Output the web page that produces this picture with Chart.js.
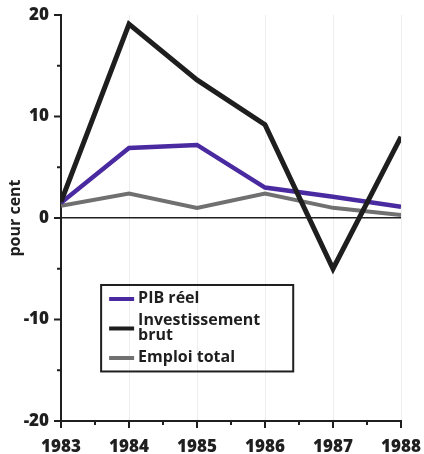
<!DOCTYPE html>
<html><head><meta charset="utf-8">
<script src="https://cdn.jsdelivr.net/npm/chart.js@4"></script>
<style>html,body{margin:0;padding:0;background:#fff}#w{width:424px;height:454px;position:relative}</style>
</head><body><div id="w"><canvas id="c"></canvas></div>
<script>
const years = [1983, 1984, 1985, 1986, 1987, 1988];
const pibReel = [1.5, 6.9, 7.2, 3.0, 2.1, 1.1];
const investissementBrut = [1.6, 19.1, 13.6, 9.2, -5.0, 8.0];
const emploiTotal = [1.2, 2.4, 1.0, 2.4, 1.0, 0.3];
const seriesNames = ['PIB réel', 'Investissement brut', 'Emploi total'];
const legendLines = [['PIB réel'], ['Investissement', 'brut'], ['Emploi total']];
const yTickValues = [-20, -10, 0, 10, 20];
const yAxisTitle = 'pour cent';

const FONT = '"Open Sans", "DejaVu Sans", sans-serif';
const INK = '#1f1f1f';
const colors = { pib: '#4a2aa0', inv: '#1e1e1e', emp: '#707070' };

const pts = arr => years.map((y, i) => ({ x: y, y: arr[i] }));

const tickMarks = {
  id: 'tickMarks',
  afterDraw(chart) {
    const { ctx, chartArea: a, scales: { x, y } } = chart;
    ctx.save();
    ctx.strokeStyle = INK; ctx.lineWidth = 2;
    for (let v = x.min; v <= x.max + 1e-9; v += 0.5) {
      const px = x.getPixelForValue(v);
      const len = Number.isInteger(v) ? 7 : 4;
      ctx.beginPath(); ctx.moveTo(px, a.bottom); ctx.lineTo(px, a.bottom + len); ctx.stroke();
    }
    for (let v = y.min; v <= y.max + 1e-9; v += 5) {
      const py = y.getPixelForValue(v);
      const len = v % 10 === 0 ? 7 : 4;
      ctx.beginPath(); ctx.moveTo(a.left, py); ctx.lineTo(a.left - len, py); ctx.stroke();
    }
    ctx.restore();
  }
};

const boxLegend = {
  id: 'boxLegend',
  afterDraw(chart) {
    const { ctx, chartArea: a } = chart;
    const w = a.right - a.left, h = a.bottom - a.top;
    const bx = a.left + w * 0.118, by = a.top + h * 0.665;
    const bw = w * 0.565, bh = h * 0.213;
    ctx.save();
    ctx.strokeStyle = INK; ctx.lineWidth = 2;
    ctx.strokeRect(bx, by, bw, bh);
    const order = [1, 0, 2];
    const lineH = 15;
    let cy = by + 13;
    ctx.font = 'bold 16px ' + FONT;
    ctx.textBaseline = 'middle';
    legendLines.forEach((lines, i) => {
      const ds = chart.data.datasets[order[i]];
      const n = lines.length;
      const mid = cy + (n - 1) * lineH / 2;
      ctx.strokeStyle = ds.borderColor; ctx.lineWidth = 4;
      ctx.beginPath(); ctx.moveTo(bx + 8, mid + 1); ctx.lineTo(bx + 33, mid + 1); ctx.stroke();
      ctx.fillStyle = INK;
      lines.forEach((t, j) => ctx.fillText(t, bx + 37, cy + j * lineH));
      cy += n * lineH + 7;
    });
    ctx.restore();
  }
};

new Chart(document.getElementById('c'), {
  type: 'line',
  data: {
    datasets: [
      { label: seriesNames[1], data: pts(investissementBrut), borderColor: colors.inv, borderWidth: 5 },
      { label: seriesNames[0], data: pts(pibReel), borderColor: colors.pib, borderWidth: 4.5 },
      { label: seriesNames[2], data: pts(emploiTotal), borderColor: colors.emp, borderWidth: 4 }
    ]
  },
  options: {
    responsive: true, maintainAspectRatio: false, animation: false,
    layout: { padding: { top: 15, right: 23, left: 0, bottom: 0 } },
    elements: { point: { radius: 0 }, line: { tension: 0, borderJoinStyle: 'miter', borderCapStyle: 'butt' } },
    plugins: { legend: { display: false }, tooltip: { enabled: false } },
    scales: {
      x: {
        type: 'linear', min: years[0], max: years[years.length - 1],
        afterFit: s => { s.height = 33; s.paddingLeft = 0; s.paddingRight = 0; },
        border: { color: INK, width: 2 },
        grid: { color: 'rgba(0,0,0,0.07)', lineWidth: 1, drawTicks: false },
        ticks: { stepSize: 1, padding: 16, color: INK, maxRotation: 0,
          font: { family: FONT, size: 17, weight: 800 },
          callback: v => String(v) }
      },
      y: {
        min: yTickValues[0], max: yTickValues[yTickValues.length - 1],
        afterFit: s => { s.width = 61; s.paddingTop = 0; s.paddingBottom = 0; },
        afterBuildTicks: s => { s.ticks = yTickValues.map(v => ({ value: v })); },
        border: { color: INK, width: 2 },
        grid: { color: c => (c.tick && c.tick.value === 0 ? INK : 'transparent'), lineWidth: 1.5, drawTicks: false },
        ticks: { padding: 12, color: INK, font: { family: FONT, size: 17, weight: 800 },
          callback: v => String(v) },
        title: { display: true, text: yAxisTitle, color: INK, padding: { top: 6, bottom: 0 },
          font: { family: FONT, size: 16, weight: 'bold' } }
      }
    }
  },
  plugins: [tickMarks, boxLegend]
});
</script>
</body></html>
